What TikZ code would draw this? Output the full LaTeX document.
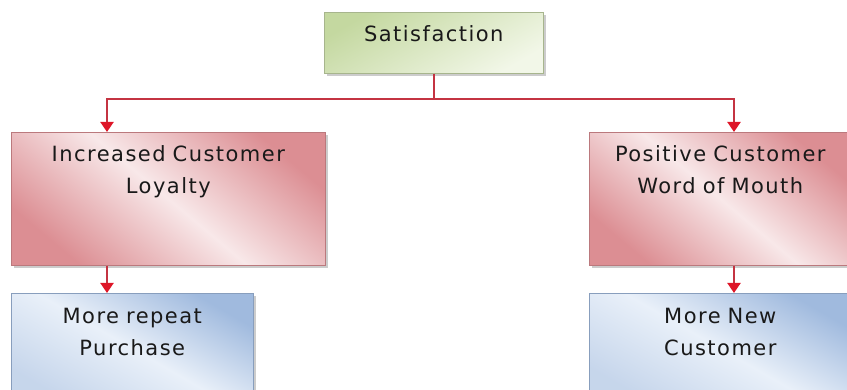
\documentclass[tikz,border=0pt]{standalone}
\usepackage{fontspec}
\setmainfont{DejaVu Sans}[LetterSpace=7]
\usetikzlibrary{arrows.meta,shadows}
\definecolor{linkred}{RGB}{196,52,66}
\definecolor{tipred}{RGB}{222,22,40}
\definecolor{greenA}{RGB}{196,216,160}
\definecolor{greenB}{RGB}{242,247,232}
\definecolor{redA}{RGB}{220,142,147}
\definecolor{redB}{RGB}{248,232,233}
\definecolor{blueA}{RGB}{160,186,222}
\definecolor{blueB}{RGB}{233,240,249}
\begin{document}
\begin{tikzpicture}[x=1pt,y=1pt,%
% common options for boxes:
box/.style = {rectangle, align=center, anchor=north west, inner sep=0,
            text=black!90, font=\fontsize{21}{32}\selectfont,
            line width=0.6pt, drop shadow={shadow xshift=2.5pt,
            shadow yshift=-2.5pt, opacity=0.4}},
greenbox/.style = {box, draw=greenA!80!black!90, top color=greenA,
            bottom color=greenB, shading angle=30},
redbox/.style = {box, draw=redA!85!black, top color=redA,
            bottom color=redA, middle color=redB, shading angle=-40},
bluebox/.style = {box, draw=blueA!85!black, top color=blueA,
            bottom color=blueA!60, middle color=blueB, shading angle=-30},
% common options for the connectors:
link/.style = {draw=linkred, line width=2pt},
arrow/.style = {link, -{Triangle[width=13pt,length=10pt,color=tipred]}}]
\useasboundingbox (0,0) rectangle (847,390);
\node[greenbox, text width=219pt, text height=29pt, text depth=32pt] (S) at (324,378) {Satisfaction};
\node[redbox, text width=314pt, text height=29pt, text depth=104pt] (L1) at (11,258) {Increased Customer\\Loyalty};
\node[redbox, text width=262pt, text height=29pt, text depth=104pt] (R1) at (589,258) {Positive Customer\\Word of Mouth};
\node[bluebox, text width=242pt, text height=30pt, text depth=80pt] (L2) at (11,97) {More repeat\\Purchase};
\node[bluebox, text width=262pt, text height=30pt, text depth=80pt] (R2) at (589,97) {More New\\Customer};
\draw[link] (S.south) -- ++(0,-25) coordinate (split);
\draw[arrow] (split) -| ([xshift=96pt]L1.north west);
\draw[arrow] (split) -| ([xshift=145pt]R1.north west);
\draw[arrow] ([xshift=96pt]L1.south west) to ([xshift=96pt]L2.north west);
\draw[arrow] ([xshift=145pt]R1.south west) to ([xshift=145pt]R2.north west);
\end{tikzpicture}
\end{document}
